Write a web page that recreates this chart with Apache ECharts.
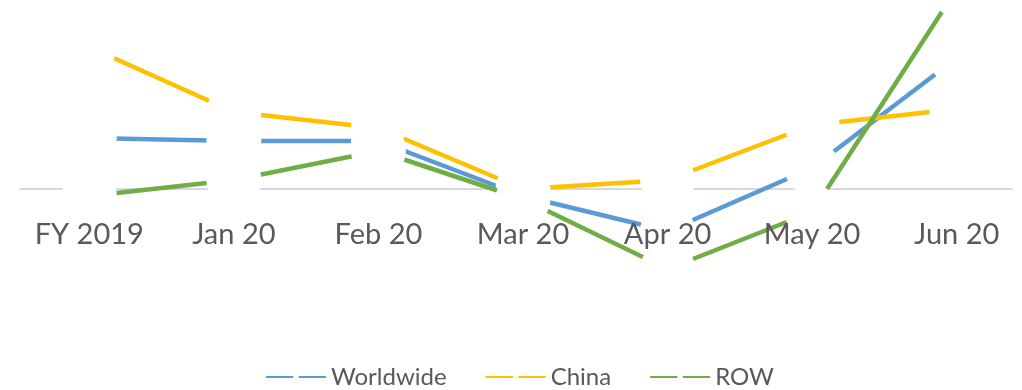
<!DOCTYPE html>
<html>
<head>
<meta charset="utf-8">
<script src="https://cdn.jsdelivr.net/npm/echarts@6/dist/echarts.min.js"></script>
<style>
html,body{margin:0;padding:0;background:#fff;}
#chart{width:1022px;height:390px;}
</style>
</head>
<body>
<div id="chart"></div>
<script>
const categories = ['FY 2019', 'Jan 20', 'Feb 20', 'Mar 20', 'Apr 20', 'May 20', 'Jun 20'];
const worldwide = [5.1, 4.8, 4.8, -0.7, -4.2, 2.1, 13.1];
const china = [14.2, 7.7, 6.1, 0.0, 0.9, 6.4, 8.0];
const row = [-0.7, 0.9, 3.8, -1.0, -8.0, -2.3, 20.0];
const seriesNames = ['Worldwide', 'China', 'ROW'];
const seriesColors = ['#5B9BD5', '#FFC000', '#70AD47'];

const values = [worldwide, china, row];
const chart = echarts.init(document.getElementById('chart'));
const fontFamily = 'Lato, "Open Sans", sans-serif';

chart.setOption({
  animation: false,
  backgroundColor: '#ffffff',
  grid: [
    { left: 17, right: -7, top: -11, bottom: 101, containLabel: false, outerBoundsMode: 'none' },
    { left: 20, right: 10, top: -11, bottom: 101, containLabel: false, outerBoundsMode: 'none' }
  ],
  legend: {
    left: 260,
    top: 360,
    itemWidth: 60,
    itemHeight: 7,
    itemGap: 38,
    textStyle: { fontFamily: fontFamily, fontSize: 24, color: '#595959' },
    data: seriesNames
  },
  xAxis: [
    {
      type: 'category',
      gridIndex: 0,
      position: 'bottom',
      offset: -100,
      data: categories,
      boundaryGap: true,
      z: 10,
      axisLine: { show: false, onZero: false },
      axisTick: { show: false },
      axisLabel: { show: true, margin: 31, fontFamily: fontFamily, fontSize: 29, color: '#595959', interval: 0 },
      splitLine: { show: false }
    },
    {
      type: 'category',
      gridIndex: 1,
      position: 'bottom',
      data: categories,
      boundaryGap: true,
      z: 0,
      axisLine: { show: true, onZero: true, lineStyle: { color: '#D9D9D9', width: 2 } },
      axisTick: { show: false },
      axisLabel: { show: false },
      splitLine: { show: false }
    }
  ],
  yAxis: [
    { type: 'value', gridIndex: 0, min: -10, max: 20, interval: 5, show: false, splitLine: { show: false } },
    { type: 'value', gridIndex: 1, min: -10, max: 20, interval: 5, show: false, splitLine: { show: false } }
  ],
  series: seriesNames.map((name, i) => ({
    name: name,
    type: 'line',
    xAxisIndex: 0,
    yAxisIndex: 0,
    z: 2 + i,
    data: values[i],
    symbol: 'circle',
    symbolSize: 55,
    showSymbol: true,
    clip: false,
    itemStyle: { color: '#ffffff', borderWidth: 0 },
    lineStyle: { color: seriesColors[i], width: 4.5, cap: 'butt' },
    emphasis: { disabled: true },
    silent: true
  }))
});
</script>
</body>
</html>
